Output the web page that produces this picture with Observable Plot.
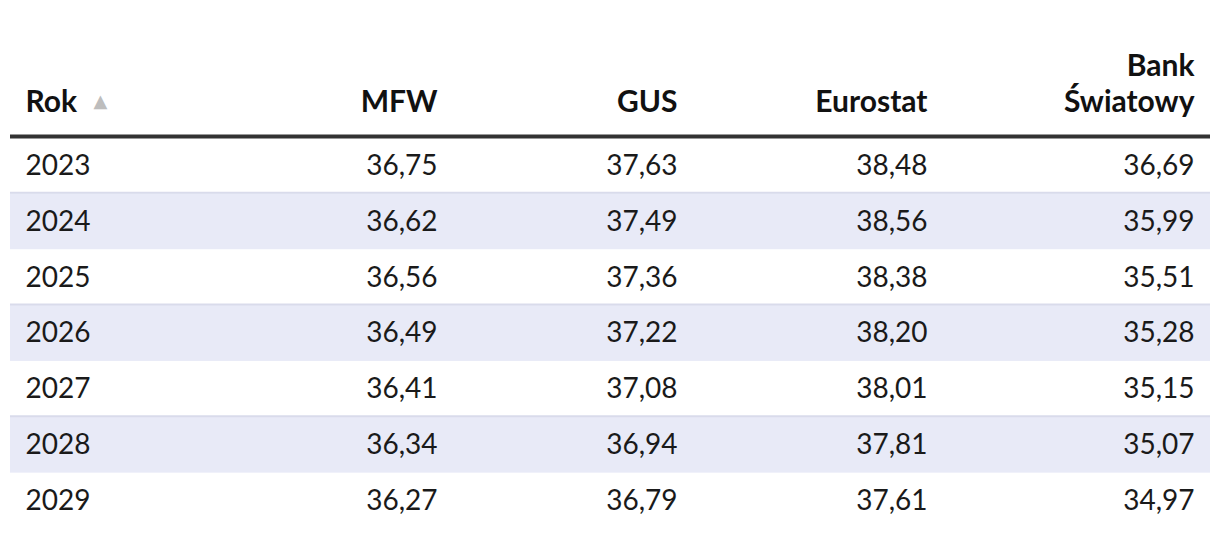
<!DOCTYPE html>
<html>
<head>
<meta charset="utf-8">
<script src="https://cdn.jsdelivr.net/npm/d3@7"></script>
<script src="https://cdn.jsdelivr.net/npm/@observablehq/plot@0.6"></script>
<style>
  html, body { margin: 0; padding: 0; background: #ffffff; }
  #chart svg { display: block; }
</style>
</head>
<body>
<div id="chart"></div>
<script>
// ---- Data ----
const columns = ["Rok", "MFW", "GUS", "Eurostat", "Bank\nŚwiatowy"];
const years = [2023, 2024, 2025, 2026, 2027, 2028, 2029];
const mfw = [36.75, 36.62, 36.56, 36.49, 36.41, 36.34, 36.27];
const gus = [37.63, 37.49, 37.36, 37.22, 37.08, 36.94, 36.79];
const eurostat = [38.48, 38.56, 38.38, 38.20, 38.01, 37.81, 37.61];
const bankSwiatowy = [36.69, 35.99, 35.51, 35.28, 35.15, 35.07, 34.97];

// ---- Build tables for marks ----
const series = [mfw, gus, eurostat, bankSwiatowy];
const fmt = v => v.toFixed(2).replace(".", ",");
const rows = years.map((yr, i) => ({row: i, year: yr}));
const shaded = rows.filter(r => r.row % 2 === 1);
const cells = [];
series.forEach((s, j) => s.forEach((v, i) => cells.push({col: j + 1, row: i, label: fmt(v)})));
const headers = columns.map((c, j) => ({col: j, label: c}));
const firstHeader = headers.filter(d => d.col === 0);
const otherHeaders = headers.filter(d => d.col > 0);

const headerStyle = {
  y: () => 0, text: "label",
  lineAnchor: "bottom", lineHeight: 1.17, dy: -26.5,
  fontSize: 30, fontWeight: 700, fill: "#111111"
};

const chart = Plot.plot({
  width: 1220,
  height: 538,
  marginLeft: 10,
  marginRight: 10,
  marginTop: 137.5,
  marginBottom: 9.5,
  style: {fontFamily: "Lato, 'Noto Sans', sans-serif", background: "#ffffff", color: "#1a1a1a"},
  x: {type: "linear", domain: [0, 1, 2, 3, 4], range: [25, 437, 677, 927, 1194], axis: null},
  y: {type: "linear", domain: [0, years.length], range: [137.5, 528.5], axis: null},
  marks: [
    // zebra rows
    Plot.rect(shaded, {y1: "row", y2: d => d.row + 1, fill: "#e8eaf7"}),
    Plot.ruleY(shaded, {y: "row", stroke: "#d9dbeb", strokeWidth: 2, dy: -1}),
    // header rule
    Plot.ruleY([0], {stroke: "#333333", strokeWidth: 4, dy: -1.5}),
    // header labels
    Plot.text(firstHeader, {...headerStyle, x: "col", textAnchor: "start"}),
    Plot.text(otherHeaders, {...headerStyle, x: "col", textAnchor: "end"}),
    // sort indicator
    Plot.text(firstHeader, {
      x: "col", y: () => 0, text: () => "▲",
      textAnchor: "start", lineAnchor: "bottom", dx: 68, dy: -31,
      fontSize: 18, fill: "#bdbdbd", fontFamily: "DejaVu Sans"
    }),
    // year column
    Plot.text(rows, {
      x: () => 0, y: d => d.row + 0.5, text: d => String(d.year),
      textAnchor: "start", fontSize: 28, fill: "#1a1a1a"
    }),
    // value columns
    Plot.text(cells, {
      x: "col", y: d => d.row + 0.5, text: "label",
      textAnchor: "end", fontSize: 28, fill: "#1a1a1a"
    })
  ]
});
document.getElementById("chart").appendChild(chart);
</script>
</body>
</html>
